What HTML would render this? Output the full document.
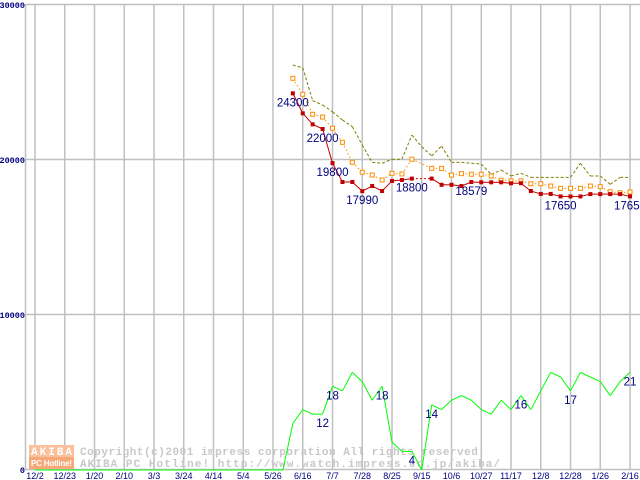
<!DOCTYPE html>
<html><head><meta charset="utf-8"><style>
html,body{margin:0;padding:0;background:#fff;}
#wrap{position:relative;width:640px;height:480px;overflow:hidden;background:#fff;}
svg{position:absolute;left:0;top:0;}
</style></head><body>
<div id="wrap">
<svg id="chart" width="640" height="480" xmlns="http://www.w3.org/2000/svg"></svg>
</div>
<script>
const xTickLabels = ["12/2","12/23","1/20","2/10","3/3","3/24","4/14","5/4","5/26","6/16","7/7","7/28","8/25","9/15","10/6","10/27","11/17","12/8","12/28","1/26","2/16"];
const yTicks = [0,10000,20000,30000];
const startIndex = 26;
const minPrice = [24300,23010,22300,22000,19800,18580,18580,17990,18320,18000,18650,18710,18800,null,18800,18400,18400,18320,18579,18560,18560,18560,18500,18500,18000,17810,17810,17650,17650,17650,17800,17800,17800,17800,17650];
const avgPrice = [25270,24240,22950,22770,22050,21140,19850,19210,19030,18710,19140,19100,20050,null,19460,19460,19030,19120,19080,19080,18970,18690,18650,18650,18470,18470,18320,18170,18170,18170,18320,18280,17950,17890,17940];
const maxPrice = [26130,25950,23830,23550,23110,22580,22150,20970,19850,19790,20050,20050,21610,20860,20260,20900,19850,19850,19790,19740,19080,19350,18970,19140,18880,18880,18880,18880,18880,19790,18970,18970,18430,18880,18880];
const shopCount = [0,0,0,0,0,0,0,0,0,0,0,0,0,0,0,0,0,0,0,0,0,0,0,0,0,0,10,13,12,12,18,17,21,19,15,18,6,4,4,0,14,13,15,16,15,13,12,15,13,16,13,17,21,20,17,21,20,19,16,19,21];
const priceLabelIdx = [26,29,30,33,38,44,53,60];
const countLabelIdx = [29,30,35,38,40,49,54,60];

const NS="http://www.w3.org/2000/svg";
const svg=document.getElementById('chart');
const X0=35, DX=9.917, Y0=470, PY=155/10000, CY=4.65;
const xs=i=>X0+i*DX;
const yp=v=>Y0-v*PY;
const yc=v=>Y0-v*CY;
function mk(tag,attrs,parent){const e=document.createElementNS(NS,tag);for(const k in attrs)e.setAttribute(k,attrs[k]);(parent||svg).appendChild(e);return e;}

// grid
const grid=mk('g',{});


yTicks.forEach(t=>{
  const l=mk('line',{x1:25,x2:640,y1:yp(t)-0.5,y2:yp(t)-0.5,stroke:'#c0c0c0','stroke-width':1.5},grid);
  
  
  const tx=mk('text',{x:25,y:yp(t)+3,'text-anchor':'end','font-family':'Liberation Mono, monospace','font-size':8.5,'font-weight':'bold',fill:'#000080'},grid);
  tx.textContent=String(t);
  
  
});
const ax=mk('line',{x1:25.5,x2:25.5,y1:4,y2:470,stroke:'#c0c0c0','stroke-width':1.5},grid);


xTickLabels.forEach((lab,k)=>{
  const x=xs(k*3);
  const l=mk('line',{x1:x,x2:x,y1:4,y2:470,stroke:'#c0c0c0','stroke-width':1.5},grid);
  
  
  const tx=mk('text',{x:x,y:479,'text-anchor':'middle','font-family':'Liberation Sans, sans-serif','font-size':9,fill:'#000080'},grid);
  tx.textContent=lab;
  
  
});

// watermark
const wm=mk('g',{});


mk('rect',{x:29,y:445,width:45,height:12,fill:'#f9c09a'},wm);
mk('rect',{x:29,y:457,width:45,height:12,fill:'#f7a878'},wm);
const a1=mk('text',{x:31,y:455,'font-family':'Liberation Mono, monospace','font-size':11,'font-weight':'bold',fill:'#fff',textLength:41},wm);a1.textContent='AKIBA';
const a2=mk('text',{x:31,y:466,'font-family':'Liberation Sans, sans-serif','font-size':8,'font-weight':'bold',fill:'#fff',textLength:41},wm);a2.textContent='PC Hotline!';
const c1=mk('text',{x:80,y:455,'font-family':'Liberation Mono, monospace','font-size':11,'font-weight':'bold',fill:'#c8c8c8',textLength:405},wm);c1.textContent='Copyright(c)2001 impress corporation All rights reserved.';
const c2=mk('text',{x:80,y:467,'font-family':'Liberation Mono, monospace','font-size':11,'font-weight':'bold',fill:'#c8c8c8',textLength:420},wm);c2.textContent='AKIBA PC Hotline!  http://www.watch.impress.co.jp/akiba/';

// series
function drawSeries(vals,off,yf,color,dash,name){
  const g=mk('g',{});
  
  
  let prev=null, gap=false;
  vals.forEach((v,k)=>{
    if(v===null){gap=true;return;}
    const p=[xs(off+k),yf(v)];
    if(prev){
      const a={x1:prev[0],y1:prev[1],x2:p[0],y2:p[1],stroke:color,'stroke-width':1};
      if(dash)a['stroke-dasharray']=dash; else if(gap)a['stroke-dasharray']='2,2';
      mk('line',a,g);
    }
    prev=p;gap=false;
  });
  return g;
}
const gMax=drawSeries(maxPrice,startIndex,yp,'#808000','3,2','series-max-price');
const gAvg=drawSeries(avgPrice,startIndex,yp,'#ff8c00','1.5,2.5','series-avg-price');
avgPrice.forEach((v,k)=>{if(v===null)return;const r=mk('rect',{x:xs(startIndex+k)-2,y:yp(v)-2,width:4,height:4,fill:'#fff',stroke:'#ff8c00','stroke-width':1},gAvg);
  
  });
const gMin=drawSeries(minPrice,startIndex,yp,'#c00000',null,'series-min-price');
minPrice.forEach((v,k)=>{if(v===null)return;const r=mk('rect',{x:xs(startIndex+k)-2,y:yp(v)-2,width:4,height:4,fill:'#c00000'},gMin);
  
  });
const gCnt=drawSeries(shopCount,0,yc,'#00ff00',null,'series-shop-count');

priceLabelIdx.forEach(i=>{
  const v=minPrice[i-startIndex];
  const t=mk('text',{x:xs(i),y:yp(v)+13,'text-anchor':'middle','font-family':'Liberation Sans, sans-serif','font-size':11.5,fill:'#000080'});
  t.textContent=String(v);
  
  
});
countLabelIdx.forEach(i=>{
  const v=shopCount[i];
  const t=mk('text',{x:xs(i),y:yc(v)+13,'text-anchor':'middle','font-family':'Liberation Sans, sans-serif','font-size':11.5,fill:'#000080'});
  t.textContent=String(v);
  
  
});
</script>
</body></html>
